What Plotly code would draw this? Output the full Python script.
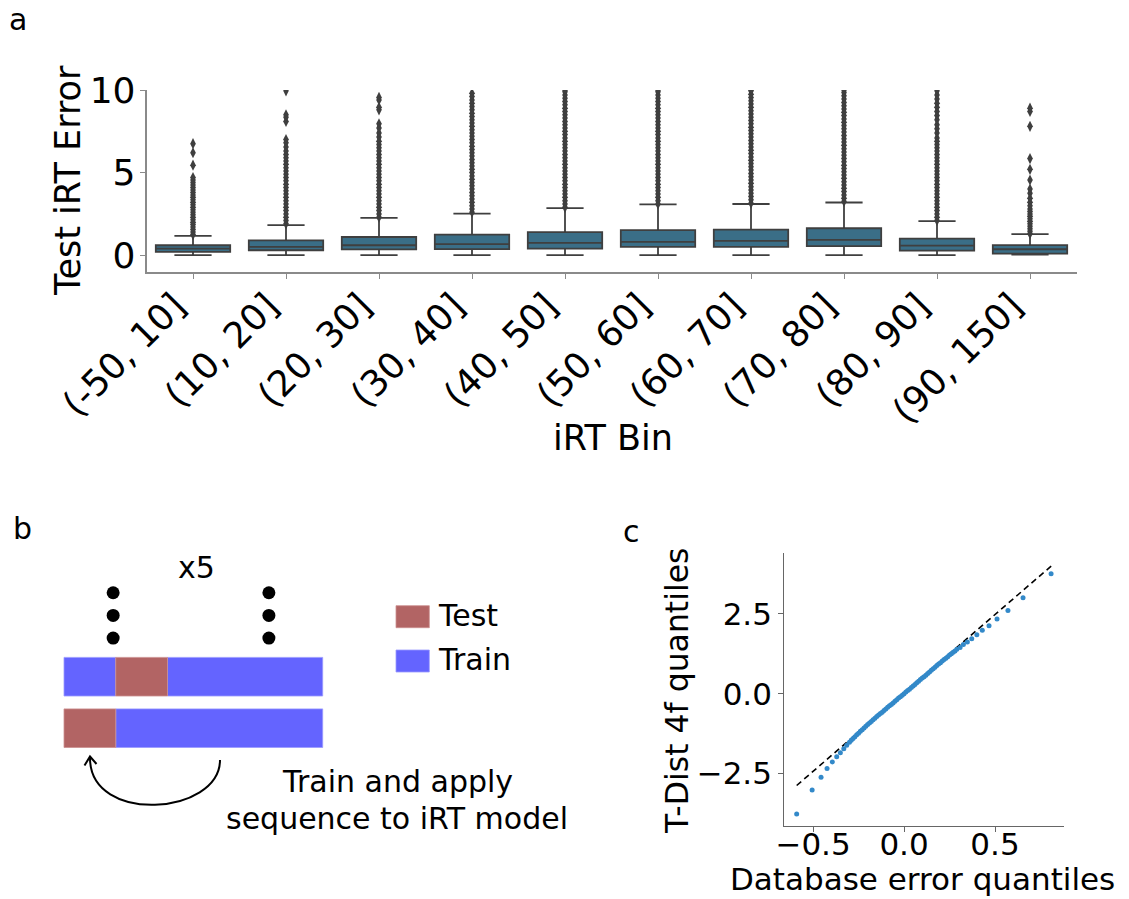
import plotly.graph_objects as go

W, H = 1129, 899
FONT = "DejaVu Sans"

# ---------------- panel a: iRT error per bin ----------------
bins = ["(-50, 10]", "(10, 20]", "(20, 30]", "(30, 40]", "(40, 50]",
        "(50, 60]", "(60, 70]", "(70, 80]", "(80, 90]", "(90, 150]"]
err_lo = [0.0, 0.0, 0.0, 0.0, 0.0, 0.0, 0.0, 0.0, 0.0, 0.03]
err_q1 = [0.2, 0.3, 0.35, 0.37, 0.4, 0.5, 0.5, 0.55, 0.27, 0.1]
err_med = [0.4, 0.5, 0.6, 0.67, 0.75, 0.8, 0.87, 0.93, 0.58, 0.36]
err_q3 = [0.6, 0.9, 1.1, 1.25, 1.4, 1.52, 1.55, 1.63, 1.0, 0.61]
err_hi = [1.17, 1.82, 2.26, 2.52, 2.85, 3.07, 3.1, 3.19, 2.06, 1.27]

fliers_0 = [1.25, 1.4, 1.55, 1.7, 1.85, 2.0, 2.15, 2.3, 2.45, 2.6, 2.75, 2.9, 3.05,
            3.2, 3.35, 3.5, 3.65, 3.8, 3.95, 4.1, 4.25, 4.4, 4.55, 4.7, 5.45, 6.2, 6.75]
fliers_1 = [1.9, 2.1, 2.3, 2.5, 2.7, 2.9, 3.1, 3.3, 3.5, 3.7, 3.9, 4.1, 4.3, 4.5, 4.7,
            4.9, 5.1, 5.3, 5.5, 5.7, 5.9, 6.1, 6.3, 6.55, 6.8, 7.0, 8.1, 8.35, 8.5, 9.95]
fliers_2 = [2.3, 2.5, 2.7, 2.9, 3.1, 3.3, 3.5, 3.7, 3.9, 4.1, 4.3, 4.5, 4.7, 4.9, 5.1,
            5.3, 5.5, 5.7, 5.9, 6.1, 6.3, 6.5, 6.7, 6.9, 7.15, 7.4, 7.7, 7.95, 8.8, 8.95,
            9.4, 9.55]
fliers_3 = [2.6, 2.8, 3.0, 3.2, 3.4, 3.6, 3.8, 4.0, 4.2, 4.4, 4.6, 4.8, 5.0, 5.2, 5.4,
            5.6, 5.8, 6.0, 6.2, 6.4, 6.6, 6.8, 7.0, 7.2, 7.4, 7.6, 7.8, 8.0, 8.2, 8.4,
            8.6, 8.8, 9.0, 9.2, 9.4, 9.6, 9.8]
fliers_4 = [2.9, 3.1, 3.3, 3.5, 3.7, 3.9, 4.1, 4.3, 4.5, 4.7, 4.9, 5.1, 5.3, 5.5, 5.7,
            5.9, 6.1, 6.3, 6.5, 6.7, 6.9, 7.1, 7.3, 7.5, 7.7, 7.9, 8.1, 8.3, 8.5, 8.7,
            8.9, 9.1, 9.3, 9.5, 9.7, 9.9, 10.0]
fliers_5 = [3.1, 3.3, 3.5, 3.7, 3.9, 4.1, 4.3, 4.5, 4.7, 4.9, 5.1, 5.3, 5.5, 5.7, 5.9,
            6.1, 6.3, 6.5, 6.7, 6.9, 7.1, 7.3, 7.5, 7.7, 7.9, 8.1, 8.3, 8.5, 8.7, 8.9,
            9.1, 9.3, 9.5, 9.7, 9.9, 10.0]
fliers_6 = [3.15, 3.35, 3.55, 3.75, 3.95, 4.15, 4.35, 4.55, 4.75, 4.95, 5.15, 5.35,
            5.55, 5.75, 5.95, 6.15, 6.35, 6.55, 6.75, 6.95, 7.15, 7.35, 7.55, 7.75,
            7.95, 8.15, 8.35, 8.55, 8.75, 8.95, 9.15, 9.35, 9.55, 9.75, 9.95, 10.0]
fliers_7 = [3.25, 3.45, 3.65, 3.85, 4.05, 4.25, 4.45, 4.65, 4.85, 5.05, 5.25, 5.45,
            5.65, 5.85, 6.05, 6.25, 6.45, 6.65, 6.85, 7.05, 7.25, 7.45, 7.65, 7.85,
            8.05, 8.25, 8.45, 8.65, 8.85, 9.05, 9.25, 9.45, 9.65, 9.85, 10.0]
fliers_8 = [2.1, 2.3, 2.5, 2.7, 2.9, 3.1, 3.3, 3.5, 3.7, 3.9, 4.1, 4.3, 4.5, 4.7, 4.9,
            5.1, 5.3, 5.5, 5.7, 5.9, 6.1, 6.3, 6.5, 6.7, 6.9, 7.1, 7.4, 7.65, 7.9, 8.2,
            8.45, 8.7, 8.95, 9.2, 9.45, 9.7, 9.95]
fliers_9 = [1.3, 1.45, 1.6, 1.75, 1.9, 2.05, 2.2, 2.35, 2.5, 2.65, 2.8, 3.0, 3.2, 3.45,
            3.75, 4.0, 4.55, 5.2, 5.85, 7.8, 8.7, 8.9]
fliers = [fliers_0, fliers_1, fliers_2, fliers_3, fliers_4,
          fliers_5, fliers_6, fliers_7, fliers_8, fliers_9]

# ---------------- panel b: cross-validation scheme ----------------
fold_test_row = [0, 1]
fold_test_start = [0, 1]
fold_test_len = [1, 1]
fold_train_row = [0, 1, 1]
fold_train_start = [1, 0, 2]
fold_train_len = [4, 1, 3]
ellipsis_x = [0.95, 0.95, 0.95, 3.96, 3.96, 3.96]
ellipsis_y = [2.63, 2.19, 1.75, 2.63, 2.19, 1.75]

# ---------------- panel c: QQ plot ----------------
qq_x = [-0.59, -0.505, -0.456, -0.423, -0.394, -0.37, -0.35, -0.331, -0.315,
        -0.30, -0.29, -0.28, -0.27, -0.26, -0.25, -0.24, -0.23, -0.22, -0.21,
        -0.20, -0.19, -0.18, -0.17, -0.16, -0.15, -0.14, -0.13, -0.12, -0.11,
        -0.10, -0.09, -0.08, -0.07, -0.06, -0.05, -0.04, -0.03, -0.02, -0.01,
        0.00, 0.01, 0.02, 0.03, 0.04, 0.05, 0.06, 0.07, 0.08, 0.09,
        0.10, 0.11, 0.12, 0.13, 0.14, 0.15, 0.16, 0.17, 0.18, 0.19,
        0.20, 0.21, 0.22, 0.23, 0.24, 0.25, 0.26, 0.27, 0.28, 0.29,
        0.308, 0.326, 0.348, 0.372, 0.40, 0.43, 0.467, 0.511, 0.571, 0.654, 0.808]
qq_y = [-3.77, -3.02, -2.62, -2.35, -2.14, -1.98, -1.85, -1.73, -1.62,
        -1.52, -1.46, -1.41, -1.35, -1.29, -1.24, -1.18, -1.13, -1.08, -1.02,
        -0.97, -0.92, -0.87, -0.82, -0.77, -0.72, -0.67, -0.62, -0.58, -0.53,
        -0.48, -0.43, -0.38, -0.34, -0.29, -0.24, -0.19, -0.14, -0.10, -0.05,
        0.00, 0.05, 0.10, 0.14, 0.19, 0.24, 0.29, 0.34, 0.39, 0.44,
        0.49, 0.53, 0.58, 0.63, 0.68, 0.73, 0.78, 0.83, 0.88, 0.93,
        0.97, 1.02, 1.07, 1.11, 1.16, 1.21, 1.25, 1.30, 1.34, 1.39,
        1.45, 1.54, 1.62, 1.72, 1.85, 1.99, 2.13, 2.34, 2.61, 3.01, 3.76]
ref_x = [-0.59, 0.815]
ref_y = [-2.88, 4.03]

BOX = "#3a6e87"
EDGE = "#3f3f3f"
TEST = "#b26464"
TRAIN = "#6464ff"
DOT = "#3389c9"
SPINE = "#8a8a8a"


def fx(p):
    return p / W


def fy(p):
    return 1 - p / H


fig = go.Figure()

# panel a
fig.add_trace(go.Box(
    x=bins, q1=err_q1, median=err_med, q3=err_q3,
    lowerfence=err_lo, upperfence=err_hi,
    width=0.8, whiskerwidth=0.5, fillcolor=BOX,
    line=dict(color=EDGE, width=1.8), boxpoints=False,
    xaxis="x", yaxis="y", showlegend=False, hoverinfo="skip"))
flier_x = [b for b, f in zip(bins, fliers) for _ in f]
flier_y = [v for f in fliers for v in f]
fig.add_trace(go.Scatter(
    x=flier_x, y=flier_y, mode="markers",
    marker=dict(symbol="diamond-tall", size=8, color=EDGE, line=dict(width=0)),
    xaxis="x", yaxis="y", showlegend=False, hoverinfo="skip"))

# panel b
fig.add_trace(go.Bar(
    orientation="h", y=fold_train_row, x=fold_train_len, base=fold_train_start,
    width=0.75, marker=dict(color=TRAIN, line=dict(color="#9a9aff", width=0.8)),
    xaxis="x2", yaxis="y2", showlegend=False, hoverinfo="skip"))
fig.add_trace(go.Bar(
    orientation="h", y=fold_test_row, x=fold_test_len, base=fold_test_start,
    width=0.75, marker=dict(color=TEST, line=dict(color="#cc8f8f", width=0.8)),
    xaxis="x2", yaxis="y2", showlegend=False, hoverinfo="skip"))
fig.add_trace(go.Scatter(
    x=ellipsis_x, y=ellipsis_y, mode="markers",
    marker=dict(size=13, color="black"),
    xaxis="x2", yaxis="y2", showlegend=False, hoverinfo="skip"))

# panel c
fig.add_trace(go.Scatter(
    x=ref_x, y=ref_y, mode="lines",
    line=dict(color="black", width=1.6, dash="6px,4px"),
    xaxis="x3", yaxis="y3", showlegend=False, hoverinfo="skip"))
fig.add_trace(go.Scatter(
    x=qq_x, y=qq_y, mode="markers",
    marker=dict(size=5, color=DOT, line=dict(width=0)),
    xaxis="x3", yaxis="y3", showlegend=False, hoverinfo="skip"))

tick_a = dict(family=FONT, size=36, color="black")
tick_c = dict(family=FONT, size=31, color="black")

# panel b uses segment units: 1 unit = one fold
bx0, bu = 64.0, 51.74
by0, bv = 728.2, 51.5


def bxr(p):
    return (p - bx0) / bu


def byr(p):
    return (by0 - p) / bv


fig.update_layout(
    width=W, height=H, margin=dict(l=0, r=0, t=0, b=0, autoexpand=False),
    paper_bgcolor="white", plot_bgcolor="white",
    barmode="overlay", showlegend=False,
    font=dict(family=FONT, color="black"),
    xaxis=dict(domain=[fx(146.5), fx(1076.5)], range=[-0.5, 9.5],
               type="category", categoryorder="array", categoryarray=bins,
               showline=True, linecolor=SPINE, linewidth=1.6, showgrid=False,
               zeroline=False, ticks="outside", ticklen=5, tickcolor=SPINE,
               tickangle=-45, tickfont=tick_a, ticklabelshift=-18,
               ticklabelstandoff=-8, anchor="y", automargin=False),
    yaxis=dict(domain=[fy(271.7), fy(90)], range=[-1, 10],
               tickvals=[0, 5, 10], showline=True, linecolor=SPINE, linewidth=1.6,
               showgrid=False, zeroline=False, ticks="outside", ticklen=5,
               tickcolor=SPINE, tickfont=tick_a, ticklabelstandoff=-3,
               anchor="x", automargin=False),
    xaxis2=dict(domain=[fx(40), fx(560)], range=[bxr(40), bxr(560)],
                visible=False, anchor="y2", automargin=False),
    yaxis2=dict(domain=[fy(840), fy(540)], range=[byr(840), byr(540)],
                visible=False, anchor="x2", automargin=False),
    xaxis3=dict(domain=[fx(784.3), fx(1064)], range=[-0.658, 0.879],
                tickvals=[-0.5, 0, 0.5], tickformat=".1f",
                showline=True, linecolor="#666666", linewidth=1.3, showgrid=False,
                zeroline=False, ticks="outside", ticklen=5, tickcolor="#666666",
                tickfont=tick_c, ticklabelstandoff=-14, anchor="y3", automargin=False),
    yaxis3=dict(domain=[fy(825.7), fy(553.3)], range=[-4.14, 4.40],
                tickvals=[-2.5, 0, 2.5], tickformat=".1f",
                showline=True, linecolor="#666666", linewidth=1.3, showgrid=False,
                zeroline=False, ticks="outside", ticklen=5, tickcolor="#666666",
                tickfont=tick_c, anchor="x3", automargin=False),
)

# legend patches for panel b
fig.add_shape(type="rect", xref="x2", yref="y2",
              x0=bxr(396), x1=bxr(429.3), y0=byr(627.7), y1=byr(605.7),
              fillcolor=TEST, line=dict(color="#cc8f8f", width=0.8))
fig.add_shape(type="rect", xref="x2", yref="y2",
              x0=bxr(396), x1=bxr(429.3), y0=byr(672), y1=byr(650),
              fillcolor=TRAIN, line=dict(color="#9a9aff", width=0.8))

# curved arrow from the model back to the held-out fold
p0 = (bxr(220), byr(760))
p1 = (bxr(220), byr(815))
p2 = (bxr(90), byr(825))
p3 = (bxr(90), byr(758))
fig.add_shape(type="path", xref="x2", yref="y2",
              path=f"M {p0[0]},{p0[1]} C {p1[0]},{p1[1]} {p2[0]},{p2[1]} {p3[0]},{p3[1]}",
              line=dict(color="black", width=2))
h0 = (bxr(84.5), byr(765.5))
h1 = (bxr(90), byr(756.5))
h2 = (bxr(96.5), byr(764))
fig.add_shape(type="path", xref="x2", yref="y2",
              path=f"M {h0[0]},{h0[1]} L {h1[0]},{h1[1]} L {h2[0]},{h2[1]}",
              line=dict(color="black", width=2))


def label(text, x, y, size, angle=0, xanchor="center", yanchor="middle"):
    fig.add_annotation(text=text, x=fx(x), y=fy(y), xref="paper", yref="paper",
                       showarrow=False, textangle=angle, xanchor=xanchor,
                       yanchor=yanchor, font=dict(family=FONT, size=size, color="black"))


label("a", 18, 0, 30, yanchor="top")
label("b", 22, 528, 30)
label("c", 631, 531, 30)
label("Test iRT Error", 68, 181, 35, angle=-90)
label("iRT Bin", 613, 438, 35)
label("x5", 196, 567, 30)
label("Test", 436, 615, 30, xanchor="left")
label("Train", 436, 659, 30, xanchor="left")
label("Train and apply", 397, 781, 30)
label("sequence to iRT model", 397, 818, 30)
label("T-Dist 4f quantiles", 677, 691, 31.5, angle=-90)
label("Database error quantiles", 922, 899, 31, yanchor="bottom")

fig.write_html("out.html", config={"displayModeBar": False})
